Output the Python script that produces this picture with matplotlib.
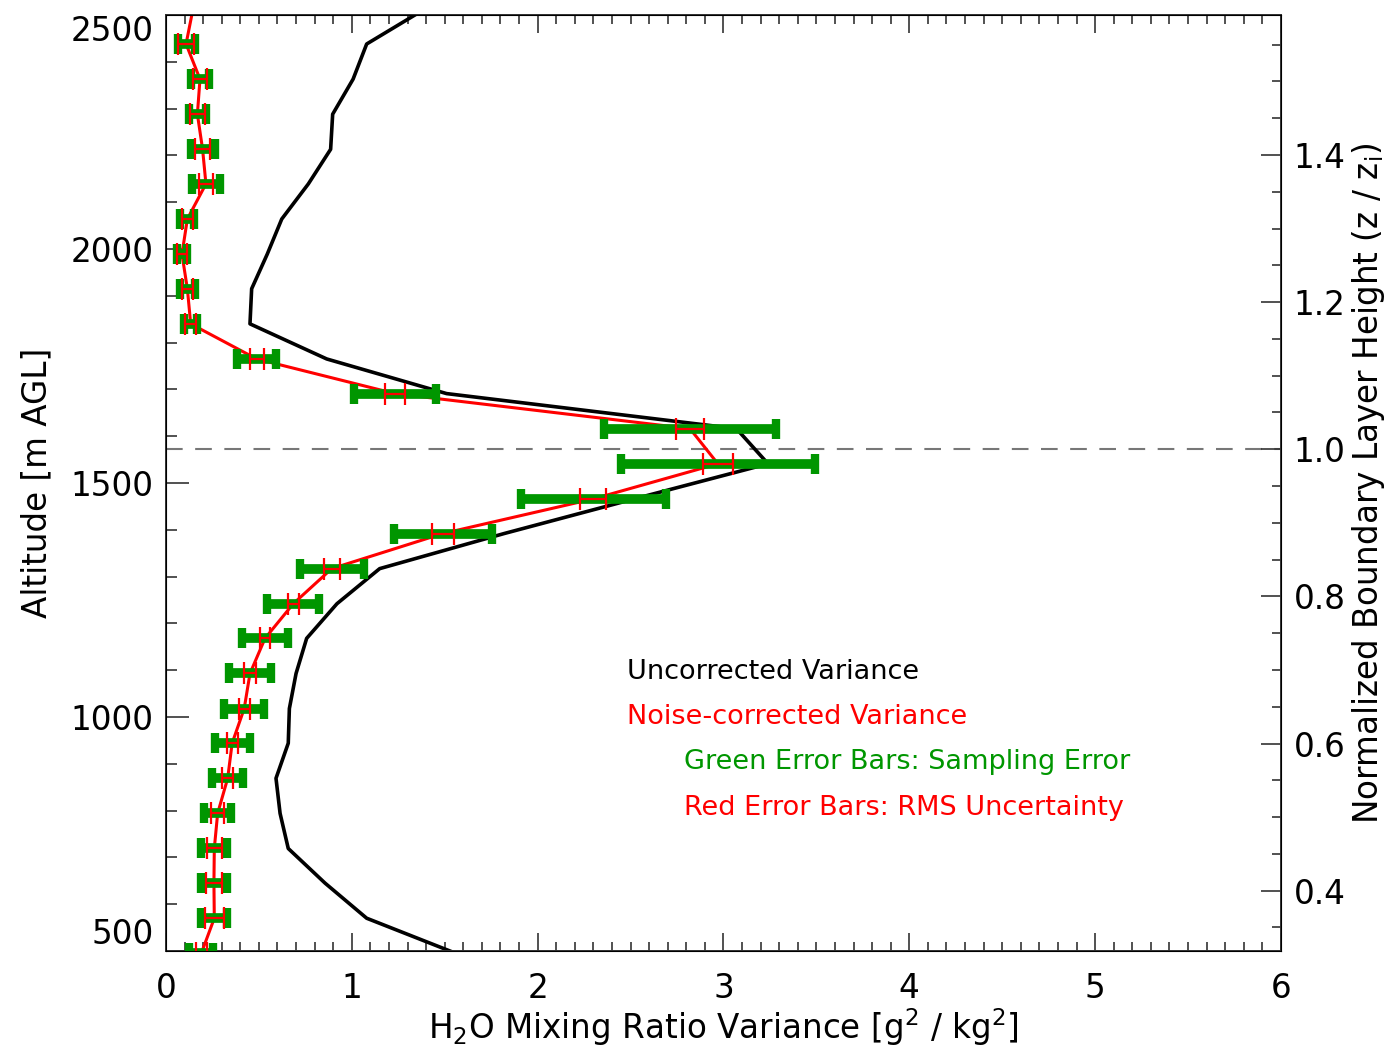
import numpy as np
import matplotlib
matplotlib.use('Agg')
import matplotlib.pyplot as plt
from matplotlib.ticker import MultipleLocator, FormatStrFormatter

plt.rcParams['font.family'] = ['DejaVu Sans']
plt.rcParams['mathtext.fontset'] = 'dejavusans'

# Altitude levels [m AGL]
altitude = [495, 570, 645, 719, 794, 869, 944, 1018, 1093, 1168, 1242, 1317,
            1392, 1466, 1541, 1616, 1691, 1765, 1840, 1915, 1989, 2064, 2139,
            2213, 2288, 2363, 2438, 2512]

# Uncorrected variance
uncorrected = [1.56, 1.08, 0.856, 0.658, 0.614, 0.592, 0.658, 0.664, 0.70,
               0.757, 0.92, 1.15, 1.82, 2.52, 3.24, 3.07, 1.51, 0.865, 0.452,
               0.461, 0.545, 0.623, 0.766, 0.886, 0.897, 1.007, 1.08, 1.39]

# Noise-corrected variance
corrected = [0.19, 0.26, 0.258, 0.26, 0.278, 0.332, 0.356, 0.421, 0.452,
             0.533, 0.685, 0.892, 1.49, 2.30, 2.97, 2.82, 1.232, 0.488, 0.133,
             0.115, 0.086, 0.115, 0.215, 0.197, 0.169, 0.183, 0.108, 0.145]

# Sampling error (green bars)
sampling_err = [0.065, 0.069, 0.069, 0.069, 0.073, 0.083, 0.094, 0.108, 0.111,
                0.126, 0.14, 0.172, 0.263, 0.39, 0.521, 0.465, 0.22, 0.105,
                0.035, 0.039, 0.029, 0.037, 0.073, 0.065, 0.046, 0.047, 0.046,
                0.046]

# RMS uncertainty (red bars)
rms_err = [0.03, 0.05, 0.045, 0.04, 0.035, 0.03, 0.03, 0.03, 0.031, 0.029,
           0.03, 0.043, 0.058, 0.07, 0.079, 0.076, 0.054, 0.038, 0.03, 0.03,
           0.025, 0.03, 0.04, 0.04, 0.04, 0.04, 0.045, 0.045]

zi = 1572.0  # boundary layer height [m]

green = '#009600'
red = '#ff0000'
axcol = '#333333'
fs = 23.5

fig = plt.figure(figsize=(13.89, 10.47), dpi=100)
ax = fig.add_axes([0.1195, 0.0917, 0.8027, 0.8940])

ax.plot(uncorrected, altitude, color='black', lw=2.6, zorder=2)
ax.plot(corrected, altitude, color=red, lw=2.2, zorder=3)
# last level lies above the plot top, no bars drawn there
ax.errorbar(corrected[:-1], altitude[:-1], xerr=sampling_err[:-1], fmt='none',
            ecolor=green, elinewidth=7, capsize=7, capthick=6, zorder=4)
ax.errorbar(corrected[:-1], altitude[:-1], xerr=rms_err[:-1], fmt='none',
            ecolor=red, elinewidth=1.6, capsize=8, capthick=1.6, zorder=5)

ax.axhline(zi, color='#777777', lw=1.5, ls=(0, (8, 6)), zorder=1)

ax.set_xlim(0, 6)
ax.set_ylim(500, 2500)
ax.xaxis.set_major_locator(MultipleLocator(1))
ax.xaxis.set_minor_locator(MultipleLocator(0.1))
ax.yaxis.set_major_locator(MultipleLocator(500))
ax.yaxis.set_minor_locator(MultipleLocator(100))
ax.tick_params(axis='both', which='both', direction='in', top=True,
               right=False, width=1.2, colors=axcol, labelcolor='black')
ax.tick_params(axis='both', which='major', labelsize=fs)
ax.tick_params(axis='x', which='major', length=13, pad=15)
ax.tick_params(axis='x', which='minor', length=6.5)
ax.tick_params(axis='y', which='major', length=16.5, pad=9)
ax.tick_params(axis='y', which='minor', length=8)
for s in ax.spines.values():
    s.set_linewidth(1.4)
    s.set_color(axcol)

ax.set_xlabel('H$_2$O Mixing Ratio Variance [g$^2$ / kg$^2$]', fontsize=fs,
              labelpad=1)
ax.set_ylabel('Altitude [m AGL]', fontsize=fs, labelpad=12)

# IDL-style end labels pulled inside the axis range
fig.canvas.draw()
for t in ax.yaxis.get_major_ticks():
    v = t.get_loc()
    if abs(v - 500) < 1:
        t.label1.set_verticalalignment('bottom')
    elif abs(v - 2500) < 1:
        t.label1.set_verticalalignment('top')

ax2 = ax.twinx()
ax2.set_ylim(500 / zi, 2500 / zi)
ax2.yaxis.set_major_locator(MultipleLocator(0.2))
ax2.yaxis.set_minor_locator(MultipleLocator(0.05))
ax2.yaxis.set_major_formatter(FormatStrFormatter('%.1f'))
ax2.tick_params(axis='y', which='both', direction='in', width=1.2,
                colors=axcol, labelcolor='black')
ax2.tick_params(axis='y', which='major', length=14.5, labelsize=fs, pad=9)
ax2.tick_params(axis='y', which='minor', length=6.5)
ax2.set_ylabel('Normalized Boundary Layer Height (z / z$_\\mathrm{i}$)',
               fontsize=fs, labelpad=3)

ax.text(2.48, 1096, 'Uncorrected Variance', color='black', fontsize=19.5,
        va='center')
ax.text(2.48, 999, 'Noise-corrected Variance', color=red, fontsize=19.5,
        va='center')
ax.text(2.79, 903, 'Green Error Bars: Sampling Error', color=green,
        fontsize=19.5, va='center')
ax.text(2.79, 806, 'Red Error Bars: RMS Uncertainty', color=red,
        fontsize=19.5, va='center')

plt.savefig('out.png', dpi=100)
